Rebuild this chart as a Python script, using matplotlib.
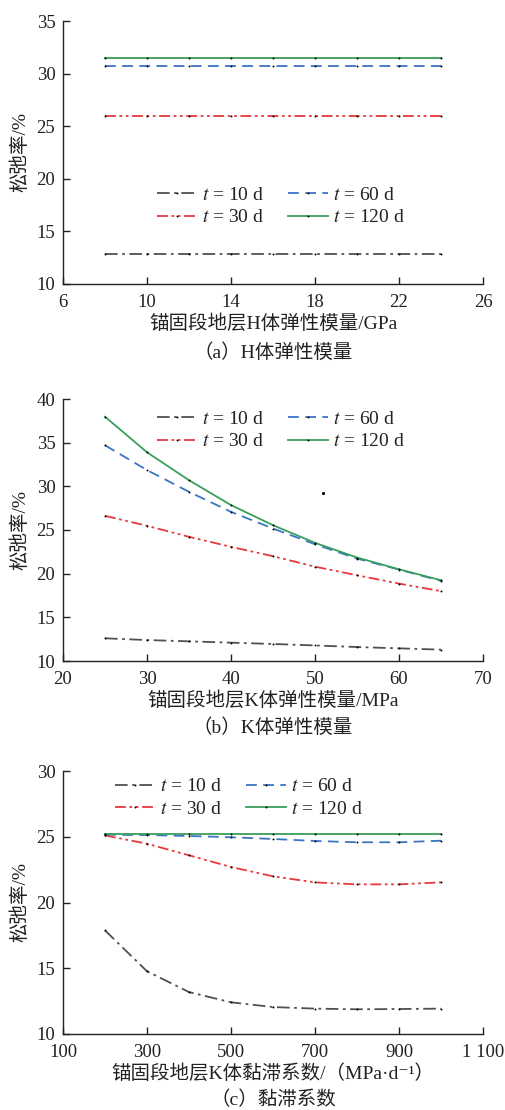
import matplotlib
matplotlib.use("Agg")
import matplotlib.pyplot as plt

plt.rcParams['font.family'] = ['Liberation Serif', 'Noto Sans CJK SC', 'DejaVu Sans']
plt.rcParams['mathtext.fontset'] = 'stix'
plt.rcParams['axes.unicode_minus'] = False

series_labels = ['$t$ = 10 d', '$t$ = 30 d', '$t$ = 60 d', '$t$ = 120 d']

# Panel (a)
xa = [8, 10, 12, 14, 16, 18, 20, 22, 24]
ya_10 = [12.85] * 9
ya_30 = [25.95] * 9
ya_60 = [30.7] * 9
ya_120 = [31.5] * 9
xa_ticks = [6, 10, 14, 18, 22, 26]
xa_ticklabels = ['6', '10', '14', '18', '22', '26']
ya_ticks = [10, 15, 20, 25, 30, 35]

# Panel (b)
xb = [25, 30, 35, 40, 45, 50, 55, 60, 65]
yb_10 = [12.6, 12.4, 12.25, 12.1, 11.95, 11.78, 11.6, 11.45, 11.3]
yb_30 = [26.62, 25.48, 24.22, 23.07, 22.0, 20.8, 19.82, 18.86, 18.0]
yb_60 = [34.7, 31.86, 29.37, 27.08, 25.17, 23.37, 21.73, 20.47, 19.17]
yb_120 = [37.97, 33.9, 30.7, 27.85, 25.55, 23.53, 21.85, 20.5, 19.25]
xb_ticks = [20, 30, 40, 50, 60, 70]
xb_ticklabels = ['20', '30', '40', '50', '60', '70']
yb_ticks = [10, 15, 20, 25, 30, 35, 40]
stray_b_x = [51]
stray_b_y = [29.2]

# Panel (c)
xc = [200, 300, 400, 500, 600, 700, 800, 900, 1000]
yc_10 = [17.88, 14.77, 13.19, 12.41, 12.05, 11.93, 11.88, 11.9, 11.93]
yc_30 = [25.1, 24.47, 23.59, 22.7, 21.99, 21.53, 21.38, 21.38, 21.53]
yc_60 = [25.16, 25.13, 25.06, 24.96, 24.83, 24.68, 24.58, 24.58, 24.7]
yc_120 = [25.2, 25.2, 25.2, 25.2, 25.2, 25.2, 25.2, 25.2, 25.2]
xc_ticks = [100, 300, 500, 700, 900, 1100]
xc_ticklabels = ['100', '300', '500', '700', '900', '1 100']
yc_ticks = [10, 15, 20, 25, 30]

colors = ['#505050', '#e8383d', '#3a74c4', '#3a9e5c']
styles = [(0, (7, 2.5, 1.5, 2.5)), (0, (6, 2, 1.5, 2, 1.5, 2)), (0, (6, 3.5)), '-']

W, H = 505, 1110
fig = plt.figure(figsize=(W / 100, H / 100), dpi=100)


def make_axes(top, bottom, left=63, right=483):
    return fig.add_axes([left / W, (H - bottom) / H, (right - left) / W, (bottom - top) / H])


def draw(ax, x, ys, xlim, ylim, xticks, xticklabels, yticks, xlabel, sub, sub_y, leg_x, leg_y, h_px):
    for y, c, ls, lab in zip(ys, colors, styles, series_labels):
        ax.plot(x, y, color=c, linestyle=ls, lw=1.3, marker='o', markersize=1.4,
                markerfacecolor='black', markeredgecolor='black', markeredgewidth=0,
                label=lab)
    ax.set_xlim(*xlim)
    ax.set_ylim(*ylim)
    ax.set_xticks(xticks)
    ax.set_xticklabels(xticklabels)
    ax.set_yticks(yticks)
    ax.spines['top'].set_visible(False)
    ax.spines['right'].set_visible(False)
    for s in ('left', 'bottom'):
        ax.spines[s].set_linewidth(1.0)
        ax.spines[s].set_color('#222222')
    ax.tick_params(direction='in', length=5, width=1.0, labelsize=13.5, colors='#222222')
    ax.tick_params(axis='x', pad=7.5)
    ax.tick_params(axis='y', pad=5.5)
    ax.set_xlabel(xlabel, fontsize=14, color='#222222')
    ax.xaxis.set_label_coords(0.5, -40 / h_px)
    ax.xaxis.label.set_va('center')
    ax.set_ylabel('松弛率/%', fontsize=14, color='#222222')
    ax.yaxis.set_label_coords((20 - 63) / 420, 0.5)
    ax.yaxis.label.set_va('center')
    leg = ax.legend(ncol=2, loc='center left', bbox_to_anchor=(leg_x, leg_y), frameon=False,
                    fontsize=14, handlelength=2.05, handletextpad=0.25, columnspacing=1.25,
                    labelspacing=0.25, borderpad=0, borderaxespad=0, numpoints=1)
    for t in leg.get_texts():
        t.set_color('#222222')
    fig.text(273 / W, 1 - sub_y / H, sub, ha='center', va='center', fontsize=14, color='#222222')


ax_a = make_axes(21, 284)
draw(ax_a, xa, [ya_10, ya_30, ya_60, ya_120], (6, 26), (10, 35), xa_ticks, xa_ticklabels, ya_ticks,
     '锚固段地层H体弹性模量/GPa', '（a）H体弹性模量', 353, 0.224, 0.295, 263)

ax_b = make_axes(399, 661)
draw(ax_b, xb, [yb_10, yb_30, yb_60, yb_120], (20, 70), (10, 40), xb_ticks, xb_ticklabels, yb_ticks,
     '锚固段地层K体弹性模量/MPa', '（b）K体弹性模量', 728, 0.224, 0.88, 262)
ax_b.plot(stray_b_x, stray_b_y, linestyle='none', marker='s', markersize=1.1, color='black')

ax_c = make_axes(771, 1034)
draw(ax_c, xc, [yc_10, yc_30, yc_60, yc_120], (100, 1100), (10, 30), xc_ticks, xc_ticklabels, yc_ticks,
     '锚固段地层K体黏滞系数/（MPa·d⁻¹）', '（c）黏滞系数', 1100, 0.124, 0.898, 263)

fig.savefig('out.png', dpi=100)
